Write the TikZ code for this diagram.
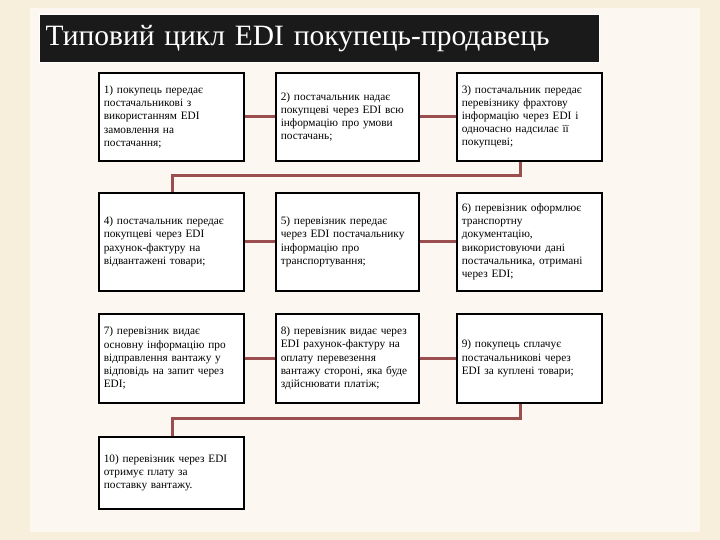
\documentclass[tikz,border=0pt]{standalone}
\usepackage{fontspec}
\setmainfont{Liberation Serif}
\definecolor{bg}{HTML}{F8EEDC}
\definecolor{link}{HTML}{9A4E4E}
\definecolor{ttl}{HTML}{1A1A1A}
\begin{document}
\begin{tikzpicture}[x=1pt,y=-1pt,
  box/.style={draw=black,line width=1.6pt,fill=white,anchor=north west,inner sep=5pt,align=left,font=\fontsize{11.3}{13.2}\selectfont},
  lnk/.style={draw=link,line width=3pt}]
\useasboundingbox (0,0) rectangle (720,540);
\fill[bg] (0,0) rectangle (720,540);
\fill[white!60!bg] (30,8) rectangle (700,532);
\node[fill=ttl,draw=white,line width=1pt,minimum width=560,minimum height=48,anchor=north west,text width=548,align=left,inner xsep=6pt,text=white,font=\fontsize{29.5}{31}\selectfont] (title) at (39,14) {Типовий цикл EDI покупець-продавець};
\node[box,minimum width=145,minimum height=88,text width=135] (b1) at (98,72) {1) покупець передає\\постачальникові з\\використанням EDI\\замовлення на\\постачання;};
\node[box,minimum width=143,minimum height=88,text width=133] (b2) at (275,72) {2) постачальник надає\\покупцеві через EDI всю\\інформацію про умови\\постачань;};
\node[box,minimum width=145,minimum height=88,text width=135] (b3) at (456,72) {3) постачальник передає\\перевізнику фрахтову\\інформацію через EDI і\\одночасно надсилає її\\покупцеві;};
\node[box,minimum width=145,minimum height=98,text width=135] (b4) at (98,192) {4) постачальник передає\\покупцеві через EDI\\рахунок-фактуру на\\відвантажені товари;};
\node[box,minimum width=143,minimum height=98,text width=133] (b5) at (275,192) {5) перевізник передає\\через EDI постачальнику\\інформацію про\\транспортування;};
\node[box,minimum width=145,minimum height=98,text width=135] (b6) at (456,192) {6) перевізник оформлює\\транспортну\\документацію,\\використовуючи дані\\постачальника, отримані\\через EDI;};
\node[box,minimum width=145,minimum height=89,text width=135] (b7) at (98,313) {7) перевізник видає\\основну інформацію про\\відправлення вантажу у\\відповідь на запит через\\EDI;};
\node[box,minimum width=143,minimum height=89,text width=133] (b8) at (275,313) {8) перевізник видає через\\EDI рахунок-фактуру на\\оплату перевезення\\вантажу стороні, яка буде\\здійснювати платіж;};
\node[box,minimum width=145,minimum height=89,text width=135] (b9) at (456,313) {9) покупець сплачує\\постачальникові через\\EDI за куплені товари;};
\node[box,minimum width=145,minimum height=72,text width=135] (b10) at (98,436) {10) перевізник через EDI\\отримує плату за\\поставку вантажу.};
\draw[lnk] (b1.east) -- (b2.west);
\draw[lnk] (b2.east) -- (b3.west);
\draw[lnk] (b4.east) -- (b5.west);
\draw[lnk] (b5.east) -- (b6.west);
\draw[lnk] (b7.east) -- (b8.west);
\draw[lnk] (b8.east) -- (b9.west);
\draw[lnk] (b3.south -| 520,0) |- (172,176) -- (b4.north -| 172,0);
\draw[lnk] (b9.south -| 520,0) |- (172,418) -- (b10.north -| 172,0);
\end{tikzpicture}
\end{document}
